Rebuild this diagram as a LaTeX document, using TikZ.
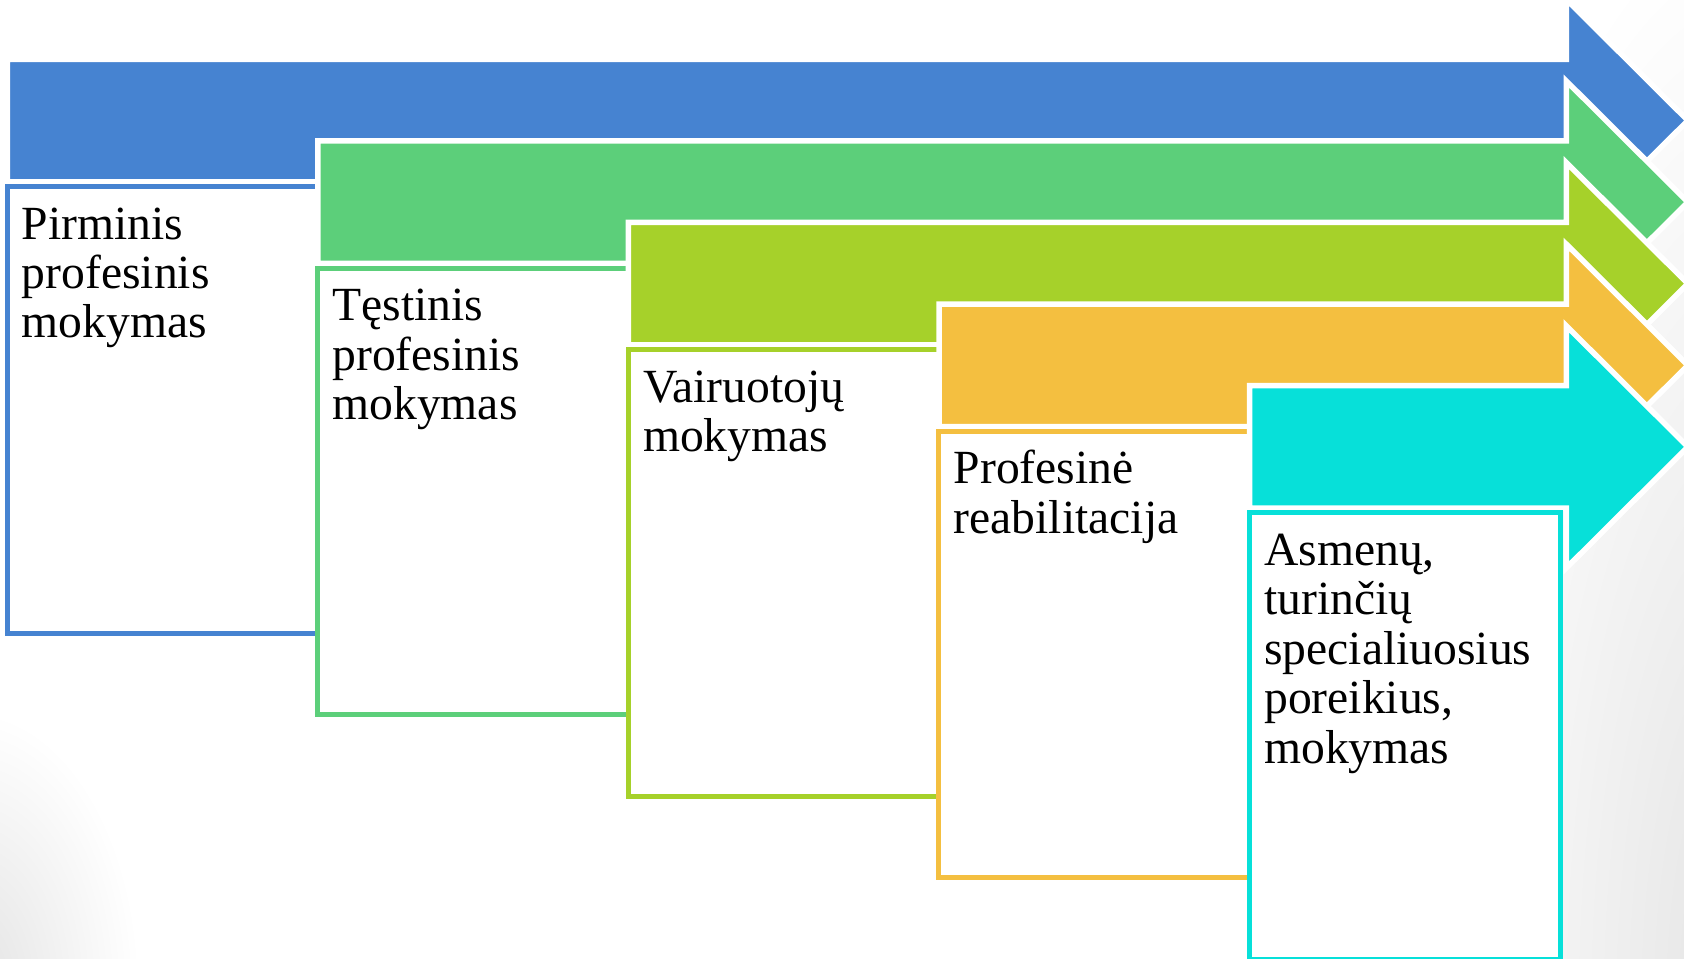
\documentclass[tikz,border=0pt]{standalone}
\usepackage{fontspec}
\setmainfont{Liberation Serif}
\definecolor{stBlue}{HTML}{4683D1}
\definecolor{stGreen}{HTML}{5CCF7A}
\definecolor{stLime}{HTML}{A6D12A}
\definecolor{stOrange}{HTML}{F4BF40}
\definecolor{stCyan}{HTML}{07E0D9}
\colorlet{vigGray}{black!11}
\pgfdeclareradialshading{vigfade}{\pgfpoint{0bp}{0bp}}{color(0bp)=(vigGray); color(25bp)=(white); color(50bp)=(white)}
\tikzset{
  stagearrow/.style={draw=white, line width=2.75pt, line join=miter},
  stagebox/.style={rectangle, fill=white, line width=2.5pt, minimum width=155.75pt,
    minimum height=223.25pt, inner sep=0pt, anchor=north west},
  stagetext/.style={inner sep=0pt, anchor=base west, font=\fontsize{23.8}{24.7}\selectfont, text=black}
}
\newcommand{\drawstage}[3]{%
  \pgfmathsetmacro\stL{10+310.6*#1}%
  \pgfmathsetmacro\stT{62+81.6*#1}%
  \pgfmathsetmacro\stC{\stT+58.5}%
  \pgfmathsetmacro\stB{\stT+117}%
  \path[stagearrow, fill=#2] (\stL-2.75,\stT-2.75) -- (1566.25,\stT-2.75) -- (1566.25,\stC-121.14)
     -- (1687.9,\stC) -- (1566.25,\stC+121.14) -- (1566.25,\stB+2.75) -- (\stL-2.75,\stB+2.75) -- cycle;
  \node[stagebox, draw=#2] (b#1) at (\stL-5.5,\stB+5) {};
  \node[stagetext] (t#1) at (\stL+11.5,\stB+60) {\parbox[t]{150pt}{\raggedright #3}};
}
\begin{document}
\begin{tikzpicture}[x=0.5pt,y=-0.5pt]
\useasboundingbox (0,0) rectangle (1684,958);
\fill[white] (0,0) rectangle (1684,958);
\shade[shading=vigfade] (1760,1000) ellipse [x radius=350, y radius=1100];
\shade[shading=vigfade] (-30,990) ellipse [x radius=170, y radius=280];
\drawstage{0}{stBlue}{Pirminis\\profesinis\\mokymas}
\drawstage{1}{stGreen}{Tęstinis\\profesinis\\mokymas}
\drawstage{2}{stLime}{Vairuotojų\\mokymas}
\drawstage{3}{stOrange}{Profesinė\\reabilitacija}
\drawstage{4}{stCyan}{Asmenų,\\turinčių\\specialiuosius\\poreikius,\\mokymas}
\end{tikzpicture}
\end{document}
